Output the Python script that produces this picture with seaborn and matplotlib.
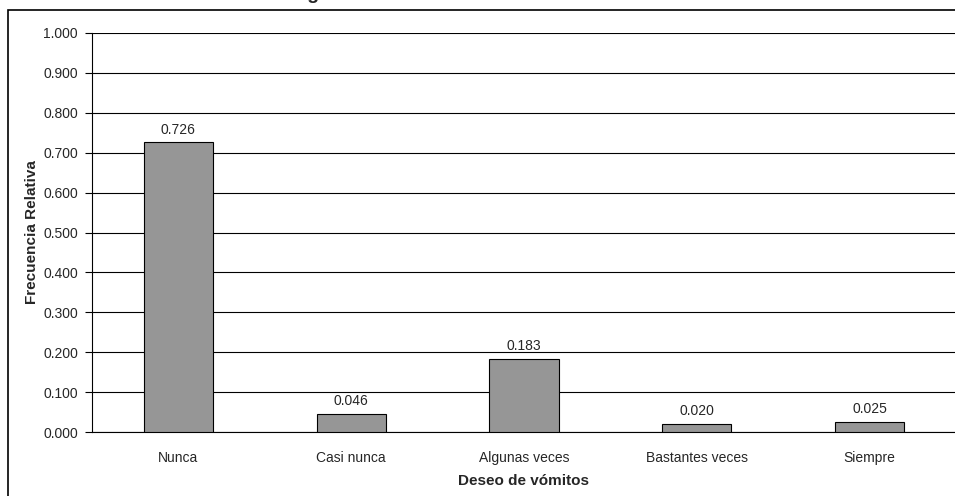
import matplotlib
matplotlib.use("Agg")
import matplotlib.pyplot as plt
import seaborn as sns
import pandas as pd
from matplotlib.patches import Rectangle

categories = ["Nunca", "Casi nunca", "Algunas veces", "Bastantes veces", "Siempre"]
values = [0.726, 0.046, 0.183, 0.020, 0.025]
yticks = [0.0, 0.1, 0.2, 0.3, 0.4, 0.5, 0.6, 0.7, 0.8, 0.9, 1.0]
title = "Diagrama de barras"
xlabel = "Deseo de vómitos"
ylabel = "Frecuencia Relativa"

sns.set_style("white")
plt.rcParams["font.family"] = ["Liberation Sans", "DejaVu Sans"]

df = pd.DataFrame({"cat": categories, "val": values})

fig = plt.figure(figsize=(9.55, 4.96), dpi=100)
ax = fig.add_axes([92 / 955, 1 - 432 / 496, 1 - 92 / 955 + 0.001, (432 - 33) / 496])

sns.barplot(data=df, x="cat", y="val", ax=ax, color="#969696", width=0.4,
            edgecolor="black", linewidth=0.8, saturation=1, zorder=3)

ax.set_ylim(0, 1.0)
ax.set_xlim(-0.5, 4.5)
ax.set_yticks(yticks)
ax.set_yticklabels([f"{t:.3f}" for t in yticks], fontsize=10)
ax.tick_params(axis="x", labelsize=10, length=0, pad=14)
ax.tick_params(axis="y", length=5, width=0.8, color="black", direction="out", left=True, pad=5)
ax.yaxis.grid(True, color="black", linewidth=0.8, zorder=0)
ax.set_axisbelow(True)
for s in ["top", "right"]:
    ax.spines[s].set_visible(False)
ax.spines["left"].set_color("black")
ax.spines["bottom"].set_color("black")
ax.spines["left"].set_linewidth(0.8)
ax.spines["bottom"].set_linewidth(0.8)

ax.set_xlabel(xlabel, fontsize=11, fontweight="bold", labelpad=6)
ax.set_ylabel(ylabel, fontsize=11, fontweight="bold", labelpad=3)

for p, v in zip(ax.patches, values):
    ax.annotate(f"{v:.3f}", (p.get_x() + p.get_width() / 2, p.get_height()),
                xytext=(0, 4), textcoords="offset points", ha="center", va="bottom",
                fontsize=10)

# outer chart border
fig.patches.append(Rectangle((8 / 955, -0.01), 1.0, 1 - 10 / 496 + 0.01,
                             transform=fig.transFigure, fill=False,
                             edgecolor="black", linewidth=1.2, zorder=10))

# title, clipped by the top edge of the image (as in the reference)
fig.text(277 / 955, 1 + 1 / 496, title, ha="left", va="baseline",
         fontsize=14, fontweight="bold")

fig.savefig("out.png", dpi=100)
